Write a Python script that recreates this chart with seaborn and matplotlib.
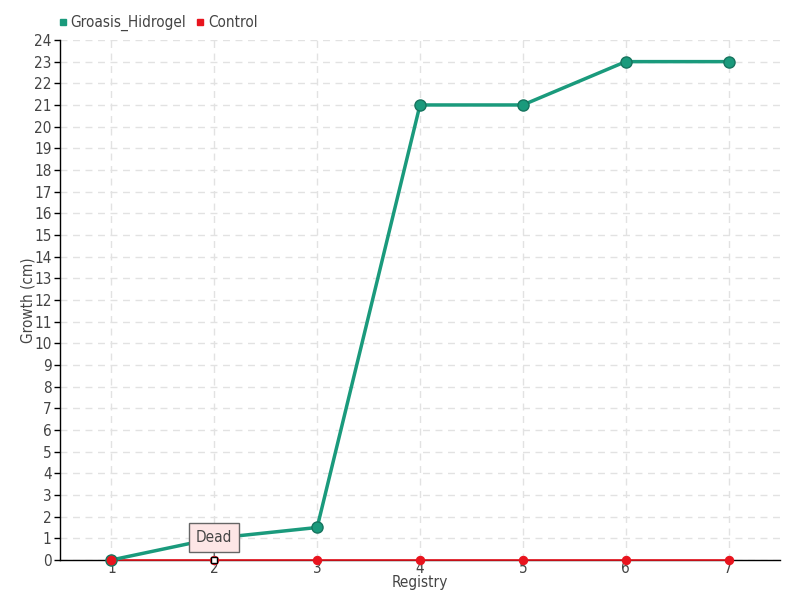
import matplotlib
matplotlib.use('Agg')
import matplotlib.pyplot as plt
import numpy as np
import pandas as pd
import seaborn as sns

registry = [1, 2, 3, 4, 5, 6, 7]
groasis_hidrogel = [0, 1, 1.5, 21, 21, 23, 23]
control = [0, 0, 0, 0, 0, 0, 0]
y_ticks = list(range(0, 25))

green = '#1a9a7c'
red = '#e8141e'

sns.set_theme(style='white')
plt.rcParams['font.family'] = ['DejaVu Sans']
plt.rcParams['font.stretch'] = 'condensed'
plt.rcParams['font.weight'] = 'light'

df = pd.DataFrame({
    'Registry': registry * 2,
    'Growth': groasis_hidrogel + control,
    'Series': ['Groasis_Hidrogel'] * 7 + ['Control'] * 7,
})

fig = plt.figure(figsize=(8, 6), dpi=100)
ax = fig.add_axes([0.075, 0.0667, 0.9, 0.8667])

sns.lineplot(data=df[df.Series == 'Control'], x='Registry', y='Growth',
             color=red, linewidth=1.2, marker='o', markersize=6,
             markeredgecolor=red, ax=ax, zorder=3, legend=False, clip_on=False)
sns.lineplot(data=df[df.Series == 'Groasis_Hidrogel'], x='Registry', y='Growth',
             color=green, linewidth=2.5, marker='o', markersize=8,
             markeredgecolor='#16745e', markeredgewidth=1, ax=ax, zorder=4,
             legend=False, clip_on=False)
# red dot on top for first point
ax.plot([registry[0]], [control[0]], 'o', color=red, markersize=6, zorder=5,
        clip_on=False)
# "Dead" point marker
ax.plot([registry[1]], [control[1]], 's', color='white', markeredgecolor='black',
        markersize=4, zorder=6, clip_on=False)

ax.set_xlim(0.5, 7.5)
ax.set_ylim(0, 24)
ax.set_xticks(registry)
ax.set_yticks(y_ticks)
ax.grid(True, color='#e2e2e2', linestyle=(0, (5, 4)), linewidth=1)
for s in ['top', 'right']:
    ax.spines[s].set_visible(False)
ax.spines['left'].set_color('black')
ax.spines['bottom'].set_color('black')
ax.spines['left'].set_linewidth(1)
ax.spines['bottom'].set_linewidth(1)
ax.tick_params(axis='y', length=4, width=1, color='black', labelsize=11,
               labelcolor='#444444', pad=2, left=True)
ax.tick_params(axis='x', length=4, width=1, color='#cccccc', labelsize=11,
               labelcolor='#444444', pad=-3, bottom=True)
ax.set_xlabel('Registry', fontsize=11, color='#444444', labelpad=-1)
ax.set_ylabel('Growth (cm)', fontsize=11, color='#444444', labelpad=-1)

ax.annotate('Dead', xy=(registry[1], control[1]), xytext=(0, 16),
            textcoords='offset points', ha='center', va='center',
            fontsize=11, color='#444444', zorder=7,
            bbox=dict(boxstyle='square,pad=0.45', fc='#fde6e6', ec='#666666', lw=1),
            arrowprops=dict(arrowstyle='-', color='#666666', lw=1,
                            shrinkA=0, shrinkB=3))

handles = [
    plt.Line2D([], [], marker='s', linestyle='', color=green, markersize=5),
    plt.Line2D([], [], marker='s', linestyle='', color=red, markersize=5),
]
fig.legend(handles, ['Groasis_Hidrogel', 'Control'], loc='upper left',
           bbox_to_anchor=(0.052, 0.998), ncol=2, frameon=False, fontsize=11,
           handletextpad=0.0, columnspacing=0.4, handlelength=1.0,
           labelcolor='#444444')

fig.savefig('out.png', dpi=100)
